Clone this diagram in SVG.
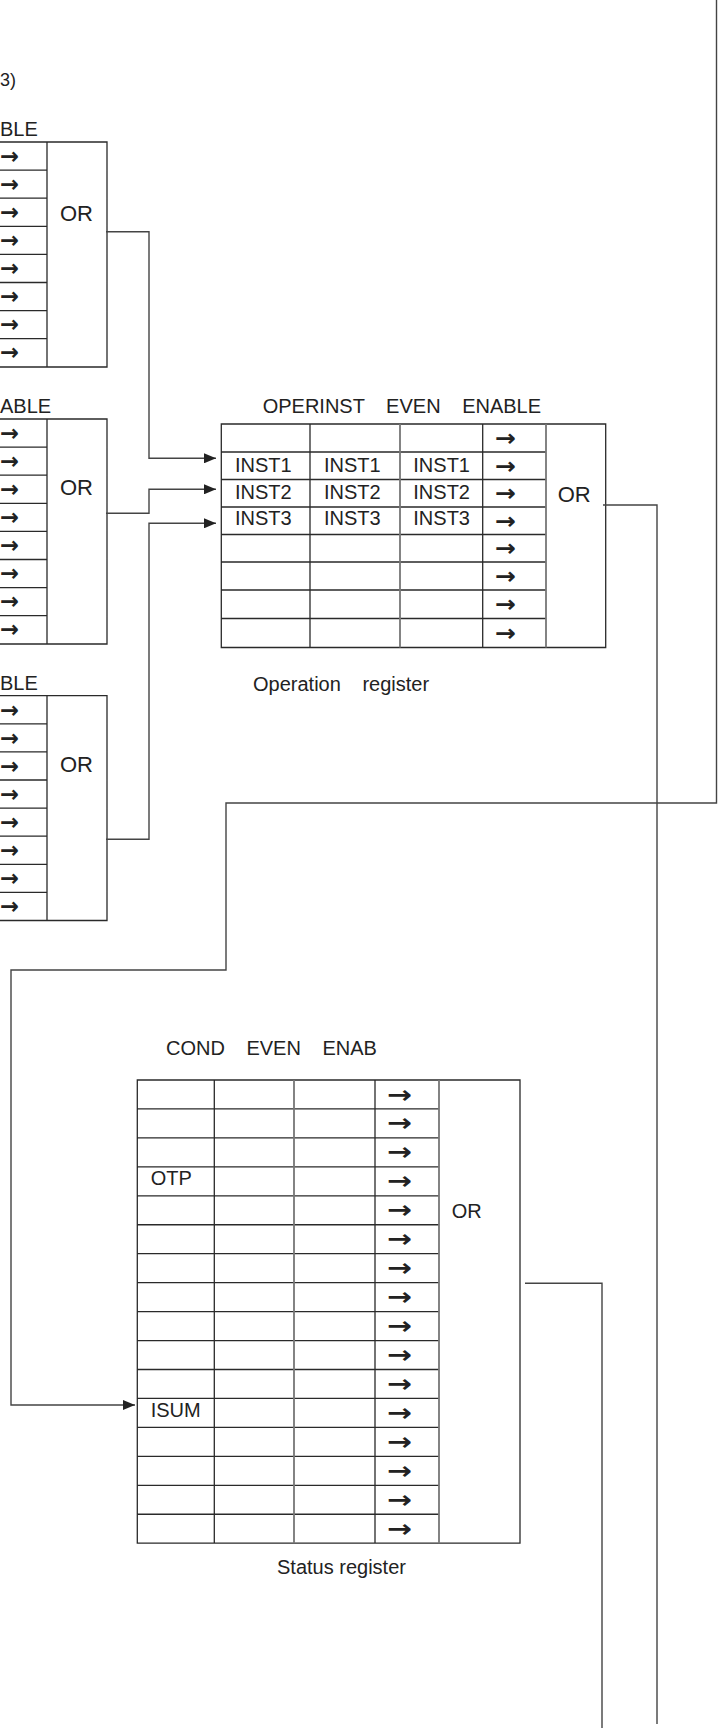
<svg xmlns="http://www.w3.org/2000/svg" width="719" height="1732" viewBox="0 0 719 1732">
<defs>
<style>
.t{font-family:"Liberation Sans",Arial,sans-serif;font-size:20px;fill:#222}
.or{font-family:"Liberation Sans",Arial,sans-serif;font-size:22px;fill:#222}
.h{font-family:"Liberation Sans",Arial,sans-serif;font-size:20px;fill:#222;word-spacing:16px}
.a{font-family:"DejaVu Sans",sans-serif;font-weight:bold;font-size:23px;fill:#222;dominant-baseline:central}
.as{font-family:"DejaVu Sans",sans-serif;font-weight:bold;font-size:24px;fill:#222;dominant-baseline:central}
.b{fill:none;stroke:#2a2a2a;stroke-width:1.3}
.g{fill:none;stroke:#777;stroke-width:1.8}
.c{fill:none;stroke:#444;stroke-width:1.4}
</style>
<marker id="ah" viewBox="0 0 12 10" refX="12" refY="5" markerWidth="12" markerHeight="10" markerUnits="userSpaceOnUse" orient="auto">
<path d="M0,0 L12,5 L0,10 z" fill="#222"/>
</marker>
</defs>
<rect width="719" height="1732" fill="#fff"/>
<text class="t" x="0" y="86" style="font-size:18px">3)</text>

<g id="reg1">
<text class="t" x="0" y="136">BLE</text>
<path class="b" d="M0,142 H107 V367 H0 M47,142 V367 M0,170.1 H47 M0,198.2 H47 M0,226.3 H47 M0,254.4 H47 M0,282.5 H47 M0,310.6 H47 M0,338.7 H47"/>
<text class="or" x="60" y="220.7">OR</text>
<text class="a" x="0" y="156" textLength="19" lengthAdjust="spacingAndGlyphs">→</text><text class="a" x="0" y="184" textLength="19" lengthAdjust="spacingAndGlyphs">→</text><text class="a" x="0" y="212" textLength="19" lengthAdjust="spacingAndGlyphs">→</text><text class="a" x="0" y="240" textLength="19" lengthAdjust="spacingAndGlyphs">→</text><text class="a" x="0" y="268" textLength="19" lengthAdjust="spacingAndGlyphs">→</text><text class="a" x="0" y="296" textLength="19" lengthAdjust="spacingAndGlyphs">→</text><text class="a" x="0" y="324" textLength="19" lengthAdjust="spacingAndGlyphs">→</text><text class="a" x="0" y="352" textLength="19" lengthAdjust="spacingAndGlyphs">→</text>
</g>

<g id="reg2">
<text class="t" x="0" y="412.7">ABLE</text>
<path class="b" d="M0,419 H107 V644 H0 M47,419 V644 M0,447.1 H47 M0,475.2 H47 M0,503.3 H47 M0,531.4 H47 M0,559.5 H47 M0,587.6 H47 M0,615.7 H47"/>
<text class="or" x="60" y="495">OR</text>
<text class="a" x="0" y="433" textLength="19" lengthAdjust="spacingAndGlyphs">→</text><text class="a" x="0" y="461" textLength="19" lengthAdjust="spacingAndGlyphs">→</text><text class="a" x="0" y="489" textLength="19" lengthAdjust="spacingAndGlyphs">→</text><text class="a" x="0" y="517" textLength="19" lengthAdjust="spacingAndGlyphs">→</text><text class="a" x="0" y="545" textLength="19" lengthAdjust="spacingAndGlyphs">→</text><text class="a" x="0" y="573" textLength="19" lengthAdjust="spacingAndGlyphs">→</text><text class="a" x="0" y="601" textLength="19" lengthAdjust="spacingAndGlyphs">→</text><text class="a" x="0" y="629" textLength="19" lengthAdjust="spacingAndGlyphs">→</text>
</g>

<g id="reg3">
<text class="t" x="0" y="690">BLE</text>
<path class="b" d="M0,695.7 H107 V920.5 H0 M47,695.7 V920.5 M0,723.8 H47 M0,751.9 H47 M0,780 H47 M0,808.1 H47 M0,836.2 H47 M0,864.3 H47 M0,892.4 H47"/>
<text class="or" x="60" y="771.7">OR</text>
<text class="a" x="0" y="709.7" textLength="19" lengthAdjust="spacingAndGlyphs">→</text><text class="a" x="0" y="737.8" textLength="19" lengthAdjust="spacingAndGlyphs">→</text><text class="a" x="0" y="766" textLength="19" lengthAdjust="spacingAndGlyphs">→</text><text class="a" x="0" y="794" textLength="19" lengthAdjust="spacingAndGlyphs">→</text><text class="a" x="0" y="822" textLength="19" lengthAdjust="spacingAndGlyphs">→</text><text class="a" x="0" y="850" textLength="19" lengthAdjust="spacingAndGlyphs">→</text><text class="a" x="0" y="878" textLength="19" lengthAdjust="spacingAndGlyphs">→</text><text class="a" x="0" y="906.4" textLength="19" lengthAdjust="spacingAndGlyphs">→</text>
</g>

<g id="operation-register">
<text class="h" x="262.7" y="413.3">OPERINST EVEN ENABLE</text>
<path class="b" d="M221.3,424 H605.7 V647.5 H221.3 Z M310,424 V647.5 M482.7,424 V647.5 M221.3,452 H546 M221.3,479.5 H546 M221.3,507 H546 M221.3,534.5 H546 M221.3,562 H546 M221.3,590 H546 M221.3,618.5 H546"/>
<path class="g" d="M400,424 V647.5 M546,424 V647.5"/>
<text class="t" x="235" y="471.5">INST1</text><text class="t" x="324" y="471.5">INST1</text><text class="t" x="413.3" y="471.5">INST1</text>
<text class="t" x="235" y="498.5">INST2</text><text class="t" x="324" y="498.5">INST2</text><text class="t" x="413.3" y="498.5">INST2</text>
<text class="t" x="235" y="524.5">INST3</text><text class="t" x="324" y="524.5">INST3</text><text class="t" x="413.3" y="524.5">INST3</text>
<text class="a" x="495" y="438" textLength="21" lengthAdjust="spacingAndGlyphs">→</text><text class="a" x="495" y="465.7" textLength="21" lengthAdjust="spacingAndGlyphs">→</text><text class="a" x="495" y="493.2" textLength="21" lengthAdjust="spacingAndGlyphs">→</text><text class="a" x="495" y="520.7" textLength="21" lengthAdjust="spacingAndGlyphs">→</text><text class="a" x="495" y="548.2" textLength="21" lengthAdjust="spacingAndGlyphs">→</text><text class="a" x="495" y="576" textLength="21" lengthAdjust="spacingAndGlyphs">→</text><text class="a" x="495" y="604.2" textLength="21" lengthAdjust="spacingAndGlyphs">→</text><text class="a" x="495" y="633" textLength="21" lengthAdjust="spacingAndGlyphs">→</text>
<text class="or" x="557.7" y="501.7">OR</text>
<text class="h" x="253" y="691">Operation register</text>
</g>

<g id="status-register">
<text class="h" x="166" y="1055">COND EVEN ENAB</text>
<path class="b" d="M137.3,1080 H520 V1543.2 H137.3 Z M214.3,1080 V1543.2 M375,1080 V1543.2 M137.3,1108.95 H439 M137.3,1137.9 H439 M137.3,1166.85 H439 M137.3,1195.8 H439 M137.3,1224.75 H439 M137.3,1253.7 H439 M137.3,1282.65 H439 M137.3,1311.6 H439 M137.3,1340.55 H439 M137.3,1369.5 H439 M137.3,1398.45 H439 M137.3,1427.4 H439 M137.3,1456.35 H439 M137.3,1485.3 H439 M137.3,1514.25 H439"/>
<path class="g" d="M294,1080 V1543.2 M439,1080 V1543.2"/>
<text class="t" x="150.7" y="1185">OTP</text>
<text class="t" x="150.7" y="1416.5">ISUM</text>
<text class="as" x="387" y="1094.5" textLength="25" lengthAdjust="spacingAndGlyphs">→</text><text class="as" x="387" y="1123.4" textLength="25" lengthAdjust="spacingAndGlyphs">→</text><text class="as" x="387" y="1152.4" textLength="25" lengthAdjust="spacingAndGlyphs">→</text><text class="as" x="387" y="1181.3" textLength="25" lengthAdjust="spacingAndGlyphs">→</text><text class="as" x="387" y="1210.3" textLength="25" lengthAdjust="spacingAndGlyphs">→</text><text class="as" x="387" y="1239.2" textLength="25" lengthAdjust="spacingAndGlyphs">→</text><text class="as" x="387" y="1268.2" textLength="25" lengthAdjust="spacingAndGlyphs">→</text><text class="as" x="387" y="1297.1" textLength="25" lengthAdjust="spacingAndGlyphs">→</text><text class="as" x="387" y="1326.1" textLength="25" lengthAdjust="spacingAndGlyphs">→</text><text class="as" x="387" y="1355" textLength="25" lengthAdjust="spacingAndGlyphs">→</text><text class="as" x="387" y="1384" textLength="25" lengthAdjust="spacingAndGlyphs">→</text><text class="as" x="387" y="1412.9" textLength="25" lengthAdjust="spacingAndGlyphs">→</text><text class="as" x="387" y="1441.9" textLength="25" lengthAdjust="spacingAndGlyphs">→</text><text class="as" x="387" y="1470.8" textLength="25" lengthAdjust="spacingAndGlyphs">→</text><text class="as" x="387" y="1499.8" textLength="25" lengthAdjust="spacingAndGlyphs">→</text><text class="as" x="387" y="1528.7" textLength="25" lengthAdjust="spacingAndGlyphs">→</text>
<text class="t" x="451.7" y="1218">OR</text>
<text class="t" x="277" y="1574">Status register</text>
</g>

<g id="connectors">
<path class="c" d="M106,231.7 H149 V458.3 H216" marker-end="url(#ah)"/>
<path class="c" d="M106,513.3 H149 V489.3 H216" marker-end="url(#ah)"/>
<path class="c" d="M106,839.3 H149 V523.3 H216" marker-end="url(#ah)"/>
<path class="c" d="M603,505 H657 V1724"/>
<path class="c" d="M716.5,0 V803 H226 V970 H11 V1405 H135" marker-end="url(#ah)"/>
<path class="c" d="M525,1283.3 H602 V1728"/>
</g>
</svg>
